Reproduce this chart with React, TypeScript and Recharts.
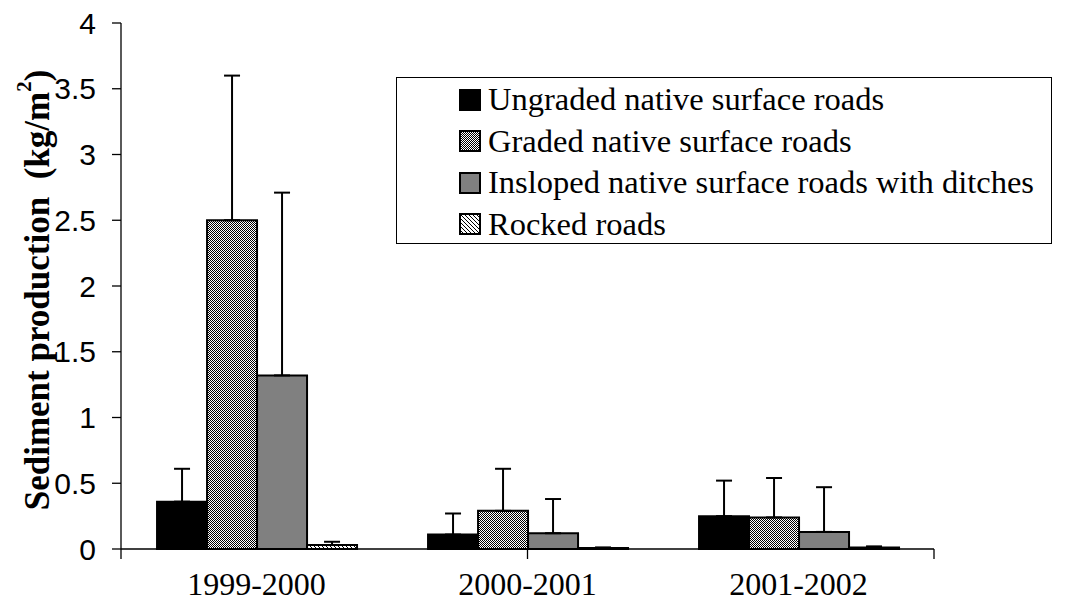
import { BarChart, Bar, XAxis, YAxis, ErrorBar, Legend } from "recharts";

const years = ["1999-2000", "2000-2001", "2001-2002"];
const ungraded = [0.36, 0.11, 0.25];
const ungradedErr = [0.25, 0.16, 0.27];
const graded = [2.5, 0.29, 0.24];
const gradedErr = [1.1, 0.32, 0.3];
const insloped = [1.32, 0.12, 0.13];
const inslopedErr = [1.39, 0.26, 0.34];
const rocked = [0.03, 0.008, 0.012];
const rockedErr = [0.025, 0.004, 0.008];
const yTicks = [0, 0.5, 1, 1.5, 2, 2.5, 3, 3.5, 4];
const boundaryTicks = [0, 1, 2, 3];

const series = [
  { key: "ungraded", name: "Ungraded native surface roads", fill: "#000000" },
  { key: "graded", name: "Graded native surface roads", fill: "url(#gradedPat)" },
  { key: "insloped", name: "Insloped native surface roads with ditches", fill: "#808080" },
  { key: "rocked", name: "Rocked roads", fill: "url(#rockedPat)" },
];

const data = years.map((year, i) => ({
  year,
  ungraded: ungraded[i],
  ungradedErr: [0, ungradedErr[i]],
  graded: graded[i],
  gradedErr: [0, gradedErr[i]],
  insloped: insloped[i],
  inslopedErr: [0, inslopedErr[i]],
  rocked: rocked[i],
  rockedErr: [0, rockedErr[i]],
}));

const serif = "'Liberation Serif', 'Times New Roman', serif";
const sans = "'Liberation Sans', Arial, sans-serif";

function LegendBox() {
  return (
    <div
      style={{
        border: "1.5px solid #000",
        background: "#fff",
        width: 656,
        height: 167,
        boxSizing: "border-box",
        paddingTop: 1,
        paddingLeft: 62,
        fontFamily: serif,
        fontSize: 32.5,
        color: "#000",
      }}
    >
      {series.map((s) => (
        <div key={s.key} style={{ display: "flex", alignItems: "center", height: 41.5 }}>
          <svg width={22} height={22} style={{ marginRight: 7, flexShrink: 0 }}>
            <rect x={1} y={1} width={20} height={20} fill={s.fill} stroke="#000" strokeWidth={2} />
          </svg>
          <span style={{ whiteSpace: "nowrap" }}>{s.name}</span>
        </div>
      ))}
    </div>
  );
}

function YLabel(props: any) {
  const vb = props.viewBox || {};
  const cx = (vb.x || 0) + 37;
  const cy = (vb.y || 0) + (vb.height || 0) / 2 + 4;
  return (
    <text
      x={cx}
      y={cy}
      transform={`rotate(-90 ${cx} ${cy})`}
      textAnchor="middle"
      dominantBaseline="central"
      fontFamily={serif}
      fontWeight="bold"
      fontSize={35}
      fill="#000"
      style={{ whiteSpace: "pre" }}
    >
      {"Sediment production  (kg/m"}
      <tspan dy={-13} fontSize={21}>2</tspan>
      <tspan dy={13}>)</tspan>
    </text>
  );
}

export default function App() {
  return (
    <div style={{ position: "absolute", left: 0, top: 0, background: "#fff" }}>
      <BarChart
        width={1072}
        height={609}
        data={data}
        margin={{ top: 23, right: 138, bottom: 0, left: 0 }}
        barCategoryGap="13.3%"
        barGap={0}
      >
        <defs>
          <pattern id="gradedPat" width={2} height={2} patternUnits="userSpaceOnUse">
            <rect width={2} height={2} fill="#ffffff" />
            <rect x={0} y={0} width={1} height={1} fill="#000000" />
            <rect x={1} y={1} width={1} height={1} fill="#000000" />
          </pattern>
          <pattern id="rockedPat" width={4} height={4} patternUnits="userSpaceOnUse">
            <rect width={4} height={4} fill="#ffffff" />
            <path d="M-1,-1 L5,5 M-1,3 L1,5 M3,-1 L5,1" stroke="#000" strokeWidth={1} />
          </pattern>
        </defs>
        <XAxis
          xAxisId="b"
          dataKey="year"
          height={50}
          axisLine={false}
          tickLine={false}
          tickMargin={7}
          tick={{ fontFamily: serif, fontSize: 32, fill: "#000" }}
        />
        <XAxis
          xAxisId="a"
          type="number"
          domain={[0, 3]}
          ticks={boundaryTicks}
          allowDataOverflow
          height={10}
          tickSize={10}
          tickFormatter={() => ""}
          axisLine={{ stroke: "#000", strokeWidth: 1.3 }}
          tickLine={{ stroke: "#000", strokeWidth: 1.3 }}
        />
        <YAxis
          width={121}
          domain={[0, 4]}
          ticks={yTicks}
          interval={0}
          tickSize={9}
          tickMargin={16}
          axisLine={{ stroke: "#000", strokeWidth: 1.3 }}
          tickLine={{ stroke: "#000", strokeWidth: 1.3 }}
          tick={{ fontFamily: sans, fontSize: 30, fill: "#000" }}
          label={<YLabel />}
        />
        <Legend
          layout="horizontal"
          verticalAlign="middle"
          align="center"
          wrapperStyle={{ left: 396, top: 77, width: 656 }}
          content={() => <LegendBox />}
        />
        {series.map((s) => (
          <Bar
            key={s.key}
            xAxisId="b"
            dataKey={s.key}
            name={s.name}
            fill={s.fill}
            stroke="#000"
            strokeWidth={2}
            isAnimationActive={false}
          >
            <ErrorBar dataKey={`${s.key}Err`} direction="y" width={8} stroke="#000" strokeWidth={2} />
          </Bar>
        ))}
      </BarChart>
    </div>
  );
}
